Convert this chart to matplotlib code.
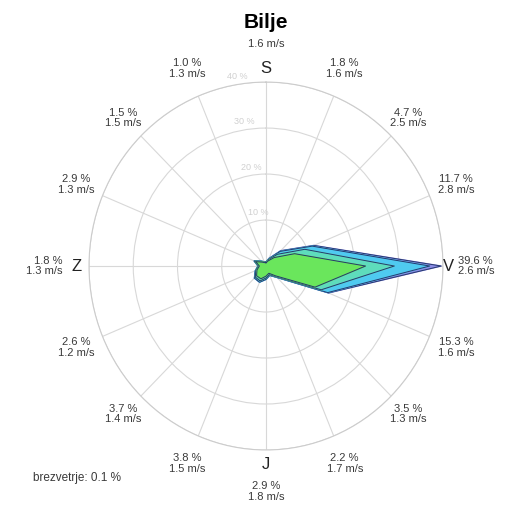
import numpy as np
import matplotlib
matplotlib.use("Agg")
import matplotlib.pyplot as plt

plt.rcParams['font.family'] = ['Liberation Sans', 'DejaVu Sans']

# 16 smeri, od severa v smeri urinega kazalca
directions = ["S", "SSV", "SV", "VSV", "V", "VJV", "JV", "JJV",
              "J", "JJZ", "JZ", "ZJZ", "Z", "ZSZ", "SZ", "SSZ"]
total_pct = [0.9, 1.8, 4.7, 11.7, 39.6, 15.3, 3.5, 2.2,
             2.9, 3.8, 3.7, 2.6, 1.8, 2.9, 1.5, 1.0]
mean_speed = [1.6, 1.6, 2.5, 2.8, 2.6, 1.6, 1.3, 1.7,
              1.8, 1.5, 1.4, 1.2, 1.3, 1.3, 1.5, 1.3]

# deleži po hitrostnih razredih (%)
cls1 = [0.7, 1.2, 2.6, 7.0, 22.5, 12.0, 3.0, 1.7, 2.2, 3.0, 3.0, 2.2, 1.5, 2.5, 1.2, 0.8]
cls2 = [0.1, 0.3, 1.0, 2.5, 6.5, 1.5, 0.3, 0.3, 0.4, 0.5, 0.4, 0.3, 0.2, 0.3, 0.2, 0.1]
cls3 = [0.1, 0.2, 0.9, 1.8, 8.0, 1.6, 0.2, 0.2, 0.3, 0.3, 0.3, 0.1, 0.1, 0.1, 0.1, 0.1]
cls4 = [0.0, 0.1, 0.2, 0.4, 2.6, 0.2, 0.0, 0.0, 0.0, 0.0, 0.0, 0.0, 0.0, 0.0, 0.0, 0.0]
class_colors = ['#6ae65c', '#5edcbc', '#4fcaf0', '#8c8ce6']

ring_values = [10, 20, 30, 40]
calm_pct = 0.1
station = "Bilje"

fig = plt.figure(figsize=(5.13, 5.11), dpi=100)
ax = fig.add_axes([0.1735, 0.1194, 0.690, 0.720], projection='polar')
ax.set_aspect('auto')
ax.set_theta_zero_location('N')
ax.set_theta_direction(-1)
ax.set_ylim(0, 40)

theta = np.deg2rad(np.arange(16) * 22.5)
th_closed = np.append(theta, theta[0])

ax.set_thetagrids(np.arange(16) * 22.5, labels=[])
ax.set_rgrids(ring_values, labels=[])
ax.grid(True, color='#d8d8d8', linewidth=0.8)
ax.spines['polar'].set_color('#cccccc')
ax.spines['polar'].set_linewidth(0.8)
ax.set_axisbelow(True)

cum = np.cumsum(np.array([cls1, cls2, cls3, cls4]), axis=0)
for k in range(3, -1, -1):
    r = np.append(cum[k], cum[k][0])
    ax.fill(th_closed, r, color=class_colors[k], zorder=2 + (3 - k))
    ax.plot(th_closed, r, color='#25386e', linewidth=0.7, zorder=2 + (3 - k))

# oznake obročev
for v in ring_values:
    ax.text(np.deg2rad(-9), v + 1.8, f"{v} %", color='#d0d0d0', fontsize=6.5,
            ha='center', va='center')

txt_col = '#3a3a3a'
# oznake smeri
for i in range(16):
    lab = f"{total_pct[i]:.1f} %\n{mean_speed[i]:.1f} m/s"
    t = theta[i]
    if i == 0:
        ax.text(t, 43.0, "S", fontsize=12, color='#222222', ha='center', va='center')
        ax.text(t, 48.2, f"{mean_speed[i]:.1f} m/s", fontsize=8, color=txt_col,
                ha='center', va='center')
    elif i == 8:
        ax.text(t, 43.2, "J", fontsize=12, color='#222222', ha='center', va='center')
        ax.text(t, 49.0, lab, fontsize=8, color=txt_col, ha='center', va='center',
                linespacing=1.1)
    elif i == 4:
        ax.text(t, 41.3, "V", fontsize=12, color='#222222', ha='center', va='center')
        ax.text(t, 43.4, lab, fontsize=8, color=txt_col, ha='left', va='center',
                linespacing=1.1)
    elif i == 12:
        ax.text(t, 42.8, "Z", fontsize=12, color='#222222', ha='center', va='center')
        ax.text(t, 45.9, lab, fontsize=8, color=txt_col, ha='right', va='center',
                linespacing=1.1)
    else:
        ang = i * 22.5 % 90
        rr = 46.5 if ang in (22.5, 67.5) else 45.5
        ax.text(t, rr, lab, fontsize=8, color=txt_col, ha='center', va='center',
                linespacing=1.1)

fig.text(0.518, 1 - 22 / 511, station, fontsize=15, fontweight='bold',
         ha='center', va='center', color='black')
fig.text(33 / 513, 1 - 478 / 511, f"brezvetrje: {calm_pct} %", fontsize=8.5,
         color=txt_col, ha='left', va='center')

fig.savefig("out.png", dpi=100, facecolor='white')
